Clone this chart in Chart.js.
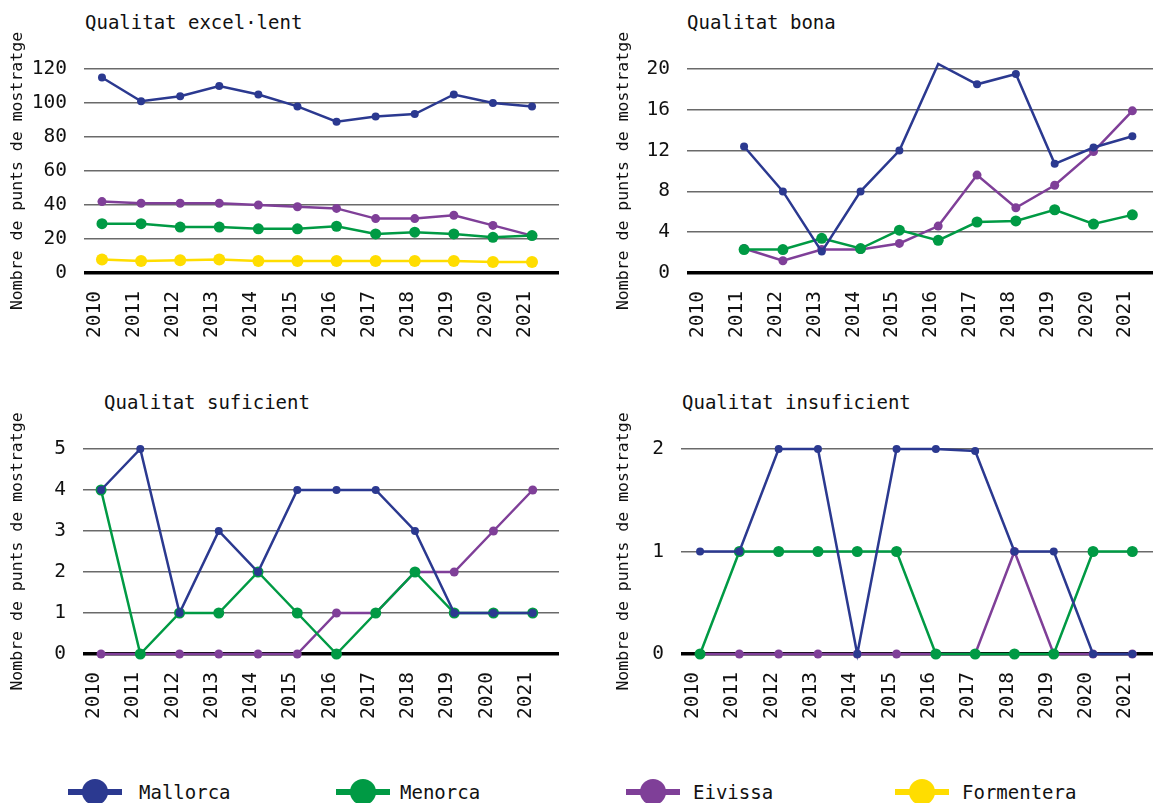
<!DOCTYPE html>
<html>
<head>
<meta charset="utf-8">
<script src="https://cdn.jsdelivr.net/npm/chart.js@4.4.1/dist/chart.umd.min.js"></script>
<style>
  body{margin:0;background:#fff;width:1153px;height:803px;overflow:hidden;position:relative;
       font-family:'DejaVu Sans Mono',monospace;color:#111}
  canvas{position:absolute}
  .t{position:absolute;font-size:19px;line-height:19px;white-space:nowrap}
  .lt{position:absolute;top:782px;font-size:19px;line-height:20px;white-space:nowrap}
  .ic{position:absolute;top:779px;width:54px;height:26px}
  .ic:before{content:'';position:absolute;left:0;right:0;top:10px;height:6px;background:var(--c)}
  .ic:after{content:'';position:absolute;left:14px;top:0;width:26px;height:26px;border-radius:50%;background:var(--c)}
</style>
</head>
<body>
<div class="t" style="left:85px;top:13px">Qualitat excel·lent</div>
<div class="t" style="left:687px;top:13px">Qualitat bona</div>
<div class="t" style="left:104px;top:393px">Qualitat suficient</div>
<div class="t" style="left:682px;top:393px">Qualitat insuficient</div>
<canvas id="cExc" width="570" height="345" style="left:0;top:0"></canvas>
<canvas id="cBona" width="560" height="345" style="left:606px;top:0"></canvas>
<canvas id="cSuf" width="570" height="345" style="left:0;top:380px"></canvas>
<canvas id="cIns" width="560" height="345" style="left:606px;top:380px"></canvas>
<div id="legend"></div>
<script>
// Punts de mostratge per qualitat de l'aigua de bany, per illa
const YEARS=['2010','2011','2012','2013','2014','2015','2016','2017','2018','2019','2020','2021'];
const ISLANDS=['Mallorca','Menorca','Eivissa','Formentera'];

// Qualitat excel·lent
const EXC_MALLORCA=[115,101,104,110,105,98,89,92,93.5,105,100,98];
const EXC_MENORCA=[29,29,27,27,26,26,27.5,23,24,23,21,22];
const EXC_EIVISSA=[42,41,41,41,40,39,38,32,32,34,28,22];
const EXC_FORMENTERA=[8,7,7.5,8,7,7,7,7,7,7,6.5,6.5];

// Qualitat bona (sense dada el 2010)
const BONA_MALLORCA=[null,12.4,8,2.1,8,12,20.5,18.5,19.5,10.7,12.3,13.4];
const BONA_MENORCA=[null,2.3,2.3,3.4,2.4,4.2,3.2,5,5.1,6.2,4.8,5.7];
const BONA_EIVISSA=[null,2.4,1.2,2.3,2.3,2.9,4.6,9.6,6.4,8.6,11.9,15.9];

// Qualitat suficient
const SUF_MALLORCA=[4,5,1,3,2,4,4,4,3,1,1,1];
const SUF_MENORCA=[4,0,1,1,2,1,0,1,2,1,1,1];
const SUF_EIVISSA=[0,0,0,0,0,0,1,1,2,2,3,4];

// Qualitat insuficient
const INS_MALLORCA=[1,1,2,2,0,2,2,1.98,1,1,0,0];
const INS_MENORCA=[0,1,1,1,1,1,0,0,0,0,1,1];
const INS_EIVISSA=[0,0,0,0,0,0,0,0,1,0,0,0];

const COLORS={Mallorca:'#2b3990',Menorca:'#009a44',Eivissa:'#7f3f98',Formentera:'#ffdd00'};
const RADII={Mallorca:4,Menorca:5.5,Eivissa:4.5,Formentera:6};
const FONT="'DejaVu Sans Mono', monospace";
Chart.defaults.font.family=FONT;
Chart.defaults.color='#111';

function series(name,values){
  return {label:name,
    data:values.map((v,i)=>({x:i,y:v})).filter(p=>p.y!==null),
    borderColor:COLORS[name],backgroundColor:COLORS[name],pointBackgroundColor:COLORS[name],
    pointBorderWidth:0,pointRadius:RADII[name],borderWidth:2.5,tension:0,clip:false};
}

function panel(id,sets,o){
  new Chart(document.getElementById(id),{type:'line',
    data:{datasets:sets},
    options:{animation:false,responsive:false,
      layout:{padding:{top:69,right:o.padRight,left:0,bottom:0}},
      plugins:{legend:{display:false},tooltip:{enabled:false}},
      scales:{
        x:{type:'linear',bounds:'data',min:o.xmin,max:o.xmax,
          afterBuildTicks:s=>{s.ticks=YEARS.map((y,i)=>({value:i}));},
          afterFit:s=>{s.height=o.xh;},
          grid:{display:false},border:{display:false},
          ticks:{autoSkip:false,minRotation:90,maxRotation:90,padding:10,labelOffset:-7,
            font:{size:19.5},color:'#111',callback:v=>YEARS[v]}},
        y:{min:0,max:o.ymax,
          afterFit:s=>{s.width=o.yw;},
          border:{display:false},
          grid:{drawTicks:false,
            color:c=>c.tick&&c.tick.value===0?'#000':'#6a6a6a',
            lineWidth:c=>c.tick&&c.tick.value===0?3.5:1.5},
          ticks:{stepSize:o.step,padding:17,font:{size:19.5},color:'#111'},
          title:{display:true,text:'Nombre de punts de mostratge',font:{size:16.5},color:'#111',padding:{top:8,bottom:0}}}
      }}
  });
}

panel('cExc',[series('Mallorca',EXC_MALLORCA),series('Menorca',EXC_MENORCA),
  series('Eivissa',EXC_EIVISSA),series('Formentera',EXC_FORMENTERA)],
  {ymax:120,step:20,yw:84,xh:72,padRight:11,xmin:-0.46,xmax:11.69});
panel('cBona',[series('Mallorca',BONA_MALLORCA),series('Menorca',BONA_MENORCA),
  series('Eivissa',BONA_EIVISSA)],
  {ymax:20,step:4,yw:81,xh:72,padRight:0,xmin:-0.47,xmax:11.55});
panel('cSuf',[series('Mallorca',SUF_MALLORCA),series('Menorca',SUF_MENORCA),
  series('Eivissa',SUF_EIVISSA)],
  {ymax:5,step:1,yw:83,xh:71,padRight:11,xmin:-0.46,xmax:11.67});
panel('cIns',[series('Mallorca',INS_MALLORCA),series('Menorca',INS_MENORCA),
  series('Eivissa',INS_EIVISSA)],
  {ymax:2,step:1,yw:75,xh:71,padRight:0,xmin:-0.485,xmax:11.56});

// llegenda comuna
const LEG_ICON_X=[68,336,626,895];
const LEG_TEXT_X=[139,400,693,962];
document.getElementById('legend').innerHTML=ISLANDS.map((n,i)=>
  '<span class="ic" style="left:'+LEG_ICON_X[i]+'px;--c:'+COLORS[n]+'"></span>'+
  '<span class="lt" style="left:'+LEG_TEXT_X[i]+'px">'+n+'</span>').join('');
</script>
</body>
</html>
